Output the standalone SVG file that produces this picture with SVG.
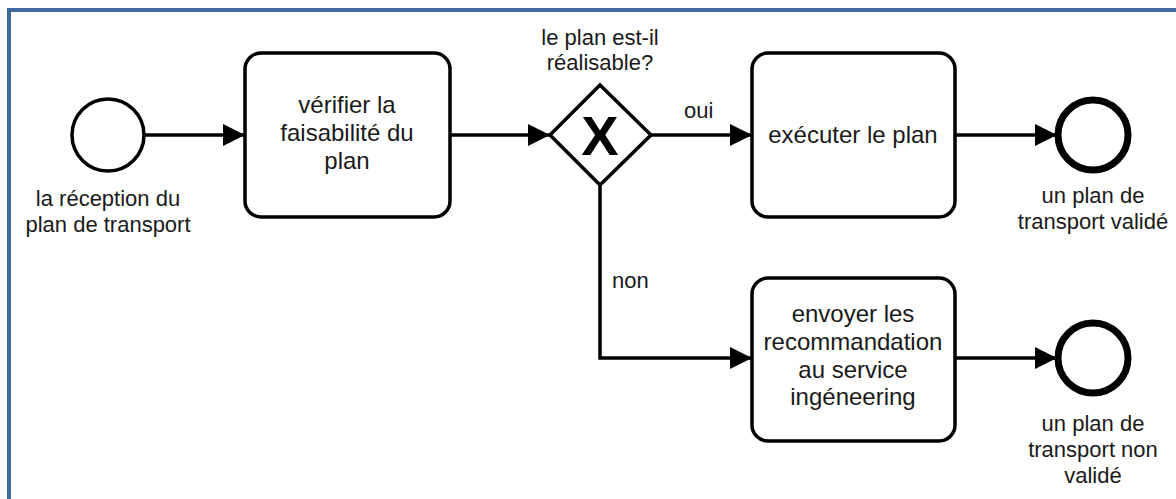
<svg xmlns="http://www.w3.org/2000/svg" width="1176" height="499" viewBox="0 0 1176 499">
  <style>
    text { font-family: "Liberation Sans", Arial, sans-serif; font-size: 22px; fill: #1a1a1a; text-anchor: middle; }
    .tt { font-size: 24px; }
    .task { fill: #ffffff; stroke: #000000; stroke-width: 3.5; }
    .start { fill: #ffffff; stroke: #000000; stroke-width: 3.5; }
    .end { fill: #ffffff; stroke: #000000; stroke-width: 7; }
    .gw { fill: #ffffff; stroke: #000000; stroke-width: 3.5; stroke-linejoin: miter; }
    .flow { fill: none; stroke: #000000; stroke-width: 3.5; marker-end: url(#arrow); }
    .lbl { text-anchor: start; }
  </style>
  <defs>
    <marker id="arrow" viewBox="0 0 22 22" refX="22" refY="11" markerWidth="22" markerHeight="22" markerUnits="userSpaceOnUse" orient="auto">
      <path d="M0,0 L22,11 L0,22 Z" fill="#000000"/>
    </marker>
  </defs>

  <!-- frame -->
  <rect x="9" y="10" width="1180" height="500" fill="#ffffff" stroke="#3E6A9E" stroke-width="4"/>

  <!-- sequence flows -->
  <g id="connectors">
    <path class="flow" d="M145,135 L245,135"/>
    <path class="flow" d="M450,135 L550,135"/>
    <path class="flow" d="M651,135 L752,135"/>
    <path class="flow" d="M600,185 L600,358 L752,358"/>
    <path class="flow" d="M955,135 L1057,135"/>
    <path class="flow" d="M955,358 L1057,358"/>
    <text class="lbl" x="684" y="118">oui</text>
    <text class="lbl" x="612" y="288">non</text>
  </g>

  <g id="start-event">
    <circle class="start" cx="108" cy="135" r="36"/>
    <text x="108" y="206">la réception du</text>
    <text x="108" y="232">plan de transport</text>
  </g>

  <g id="task-verifier">
    <rect class="task" x="245" y="53" width="205" height="164" rx="16"/>
    <text class="tt" x="347" y="113">vérifier la</text>
    <text class="tt" x="347" y="141">faisabilité du</text>
    <text class="tt" x="347" y="169">plan</text>
  </g>

  <g id="gateway">
    <path class="gw" d="M600,85 L651,135 L600,185 L550,135 Z"/>
    <text x="600" y="155" style="font-size:56px;font-weight:bold;fill:#000">X</text>
    <text x="600" y="45">le plan est-il</text>
    <text x="600" y="70">réalisable?</text>
  </g>

  <g id="task-executer">
    <rect class="task" x="752" y="53" width="203" height="164" rx="16"/>
    <text class="tt" x="853" y="143">exécuter le plan</text>
  </g>

  <g id="task-envoyer">
    <rect class="task" x="752" y="278" width="203" height="163" rx="16"/>
    <text class="tt" x="853" y="322">envoyer les</text>
    <text class="tt" x="853" y="350">recommandation</text>
    <text class="tt" x="853" y="378">au service</text>
    <text class="tt" x="853" y="405">ingéneering</text>
  </g>

  <g id="end-valide">
    <circle class="end" cx="1093" cy="135" r="35"/>
    <text x="1093" y="203">un plan de</text>
    <text x="1093" y="229">transport validé</text>
  </g>

  <g id="end-non-valide">
    <circle class="end" cx="1093" cy="358" r="35"/>
    <text x="1093" y="431">un plan de</text>
    <text x="1093" y="457">transport non</text>
    <text x="1093" y="483">validé</text>
  </g>
</svg>
